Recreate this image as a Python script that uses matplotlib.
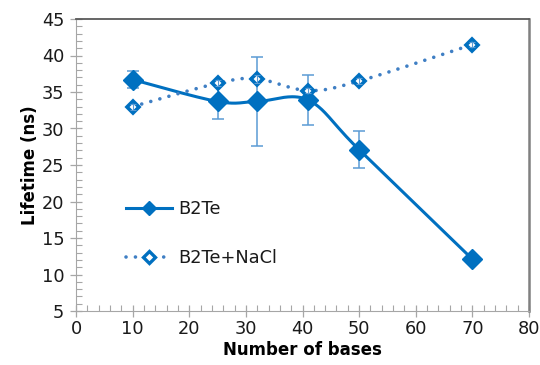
import numpy as np
import matplotlib
matplotlib.use("Agg")
import matplotlib.pyplot as plt
from matplotlib.lines import Line2D
from matplotlib.ticker import MultipleLocator

# lifetime vs number of bases
bases = [10, 25, 32, 41, 50, 70]
b2te = [36.7, 33.7, 33.7, 33.9, 27.1, 12.1]
b2te_err = [1.2, 2.4, 6.1, 3.4, 2.5, 0.0]
b2te_nacl = [33.0, 36.2, 36.8, 35.2, 36.5, 41.5]
b2te_nacl_err = [0.4, 0.4, 0.5, 0.4, 0.4, 0.3]

blue = "#0070C0"
light = "#5B9BD5"
dots = "#3F7FC4"
grey = "#A6A6A6"

plt.rcParams["font.family"] = ["DejaVu Sans"]


def smooth(x, y, sx, sy, n=40):
    # spreadsheet-style smoothed line: cubic bezier through the points,
    # control points built in screen-like units so the curve looks right
    p = np.column_stack([np.asarray(x, float) * sx, np.asarray(y, float) * sy])
    out = []
    for i in range(len(p) - 1):
        p0 = p[i - 1] if i > 0 else p[i]
        p3 = p[i + 2] if i + 2 < len(p) else p[i + 1]
        c1 = p[i] + (p[i + 1] - p0) / 6
        c2 = p[i + 1] - (p3 - p[i]) / 6
        t = np.linspace(0, 1, n)[:, None]
        seg = ((1 - t) ** 3) * p[i] + 3 * ((1 - t) ** 2) * t * c1 \
            + 3 * (1 - t) * t ** 2 * c2 + t ** 3 * p[i + 1]
        out.append(seg if i == 0 else seg[1:])
    out = np.vstack(out)
    return out[:, 0] / sx, out[:, 1] / sy


fig = plt.figure(figsize=(5.4, 3.65), dpi=100)
ax = fig.add_axes([76 / 540, 1 - 311 / 365, 453 / 540, 292 / 365])
ax.set_xlim(0, 80)
ax.set_ylim(5, 45)

sx, sy = 453 / 80, 292 / 40
dot_style = (0, (0.01, 2.6))

# B2Te: solid smoothed line, filled diamonds, error bars
xs, ys = smooth(bases, b2te, sx, sy)
ax.plot(xs, ys, color=blue, lw=2.2, zorder=2, solid_capstyle="round")
ax.errorbar(bases, b2te, yerr=b2te_err, fmt="none", ecolor=light,
            elinewidth=1.1, capsize=4, capthick=1.1, zorder=3)
ax.plot(bases, b2te, ls="none", marker="D", ms=10, color=blue,
        mec=blue, zorder=4)

# B2Te+NaCl: dotted smoothed line, open diamonds
xs, ys = smooth(bases, b2te_nacl, sx, sy)
ax.plot(xs, ys, color=dots, lw=2.6, ls=dot_style,
        dash_capstyle="round", zorder=5)
ax.plot(bases, b2te_nacl, ls="none", marker="D", ms=6.3, mfc="white",
        mec=blue, mew=2.6, zorder=6)
ax.errorbar(bases, b2te_nacl, yerr=b2te_nacl_err, fmt="none", ecolor=light,
            elinewidth=0.8, capsize=2, capthick=0.8, zorder=7)

# axes styling
ax.spines["left"].set_color(grey)
ax.spines["bottom"].set_color(grey)
ax.spines["top"].set_color("#595959")
ax.spines["top"].set_linewidth(1.3)
ax.spines["right"].set_color("#808080")
ax.spines["right"].set_linewidth(1.8)

ax.xaxis.set_major_locator(MultipleLocator(10))
ax.xaxis.set_minor_locator(MultipleLocator(2))
ax.yaxis.set_major_locator(MultipleLocator(5))
ax.yaxis.set_minor_locator(MultipleLocator(1))
ax.tick_params(which="major", direction="inout", length=9, width=0.9,
               color=grey, labelsize=12.8, labelcolor="#1a1a1a")
ax.tick_params(axis="y", which="major", pad=4)
ax.tick_params(axis="x", which="major", pad=2)
ax.tick_params(which="minor", direction="in", length=4, width=0.8,
               color=grey)
ax.tick_params(top=False, right=False, which="both")

ax.set_xlabel("Number of bases", fontsize=12, fontweight="bold", labelpad=2)
ax.set_ylabel("Lifetime (ns)", fontsize=12, fontweight="bold", labelpad=2)

handles = [
    Line2D([], [], color=blue, lw=2.2, marker="D", ms=7.5),
    Line2D([], [], color=dots, lw=2.6, ls=dot_style,
           dash_capstyle="round", marker="D", ms=6.0, mfc="white",
           mec=blue, mew=2.4),
]
ax.legend(handles, ["B2Te", "B2Te+NaCl"], loc="upper left",
          bbox_to_anchor=(0.075, 0.435), frameon=False, fontsize=12.8,
          handlelength=2.6, handletextpad=0.35, labelspacing=1.75,
          labelcolor="#1a1a1a")

fig.savefig("out.png", dpi=100)
